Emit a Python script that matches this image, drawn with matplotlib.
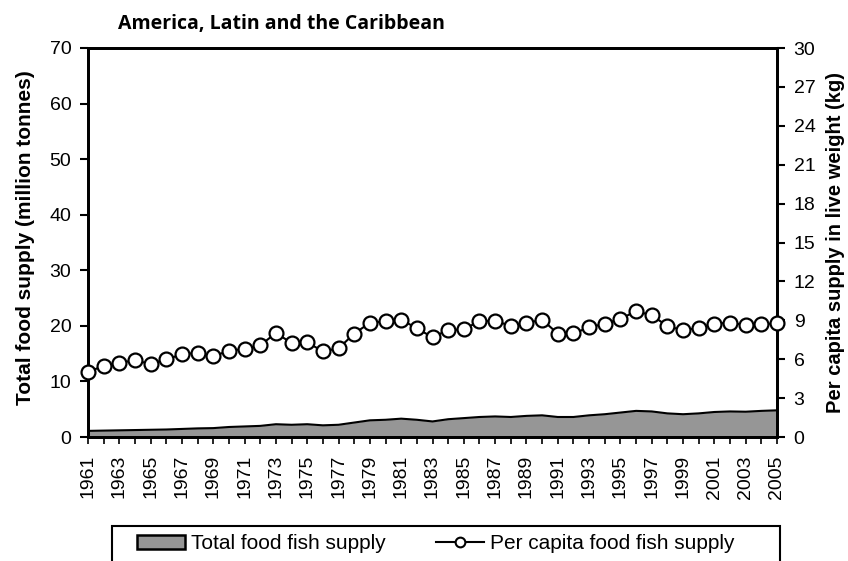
import matplotlib
matplotlib.use("Agg")
import matplotlib.pyplot as plt
from matplotlib.patches import Patch, Rectangle
from matplotlib.lines import Line2D

years = list(range(1961, 2006))

# million tonnes (left axis)
total_supply = [1.1, 1.15, 1.2, 1.25, 1.3, 1.35, 1.45, 1.55, 1.6, 1.8,
                1.9, 2.0, 2.3, 2.2, 2.3, 2.1, 2.2, 2.6, 3.0, 3.1,
                3.3, 3.1, 2.8, 3.2, 3.4, 3.6, 3.7, 3.6, 3.8, 3.9,
                3.6, 3.6, 3.9, 4.1, 4.4, 4.7, 4.6, 4.25, 4.1, 4.25,
                4.5, 4.6, 4.55, 4.7, 4.8]

# kg per capita (right axis)
per_capita = [5.0, 5.5, 5.73, 5.91, 5.63, 5.99, 6.37, 6.5, 6.22, 6.66,
              6.79, 7.07, 8.02, 7.25, 7.3, 6.6, 6.84, 7.97, 8.81, 8.92,
              9.05, 8.38, 7.69, 8.25, 8.3, 8.94, 8.94, 8.58, 8.79, 9.05,
              7.97, 7.99, 8.45, 8.74, 9.1, 9.71, 9.38, 8.56, 8.22, 8.43,
              8.74, 8.81, 8.64, 8.69, 8.77]

plt.rcParams['font.family'] = ['Liberation Sans', 'DejaVu Sans']

W, H = 848, 561
fig = plt.figure(figsize=(W / 100, H / 100), dpi=100)
ax1 = fig.add_axes([88 / W, 1 - 437 / H, 689 / W, 389 / H])

ax1.fill_between(years, total_supply, 0, color='#969696', linewidth=0)
ax1.plot(years, total_supply, color='black', linewidth=1.5)
ax1.set_ylim(0, 70)
ax1.set_xlim(1961, 2005)
ax1.set_yticks(range(0, 71, 10))
ax1.set_xticks(years)
ax1.set_xticklabels([str(y) if (y - 1961) % 2 == 0 else '' for y in years],
                    rotation=90, fontsize=14)
ax1.tick_params(axis='y', labelsize=14, direction='out', length=6, width=1.5, pad=6)
ax1.tick_params(axis='x', direction='out', length=5, width=1.2, pad=8)
ax1.set_ylabel('Total food supply (million tonnes)', fontsize=15, fontweight='bold')
ax1.yaxis.set_label_coords((35 - 88) / 689, 0.512)

ax2 = ax1.twinx()
ax2.plot(years, per_capita, color='black', linewidth=1.5, marker='o',
         markersize=10, markerfacecolor='white', markeredgecolor='black',
         markeredgewidth=1.6, clip_on=False, zorder=5)
ax2.set_ylim(0, 30)
ax2.set_yticks(range(0, 31, 3))
ax2.tick_params(axis='y', labelsize=14, direction='out', length=6, width=1.5, pad=6)
ax2.set_ylabel('Per capita supply in live weight (kg)', fontsize=14.5, fontweight='bold')
ax2.yaxis.set_label_coords((826 - 88) / 689, 0.5)

for ax in (ax1, ax2):
    for s in ax.spines.values():
        s.set_linewidth(2)

fig.text(118 / W, 1 - 29 / H, 'America, Latin and the Caribbean', fontsize=14,
         fontweight='bold', family=['Open Sans', 'DejaVu Sans'])

# legend frame runs off the bottom of the figure
fig.patches.append(Rectangle((112 / W, -0.05), (780 - 112) / W, 0.05 + 1 - 526 / H,
                             transform=fig.transFigure, fill=False,
                             edgecolor='black', linewidth=1.5))

handles = [Patch(facecolor='#969696', edgecolor='black', linewidth=1.8,
                 label='Total food fish supply'),
           Line2D([0], [0], color='black', linewidth=1.5, marker='o',
                  markersize=7, markerfacecolor='white', markeredgewidth=1.5,
                  markeredgecolor='black', label='Per capita food fish supply')]
fig.legend(handles=handles, loc='upper left', bbox_to_anchor=(137 / W, 1 - 534 / H),
           ncol=2, fontsize=15, frameon=False, borderpad=0, borderaxespad=0,
           columnspacing=2.4, handlelength=2.3, handleheight=0.65,
           handletextpad=0.3)

fig.savefig('out.png', dpi=100)
